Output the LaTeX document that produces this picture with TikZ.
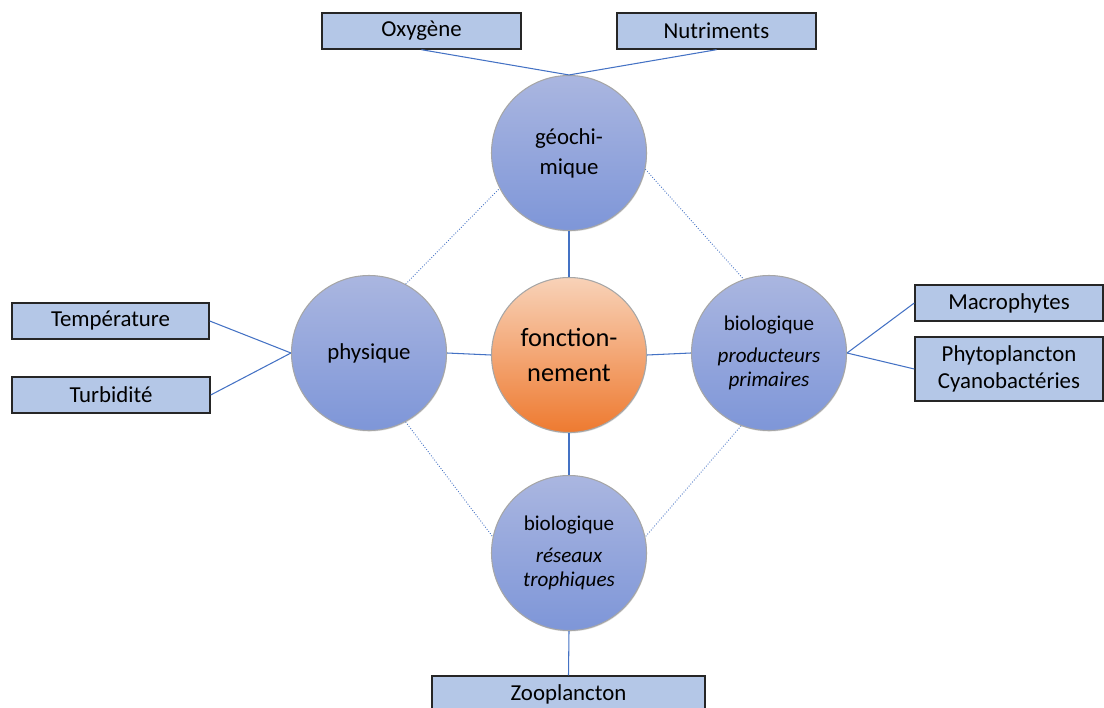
\documentclass[tikz,border=0pt]{standalone}
\usepackage{fontspec}
\setmainfont{Carlito}
\usetikzlibrary{shadows}
\definecolor{circtop}{HTML}{AAB6E0}
\definecolor{circbot}{HTML}{7E96D8}
\definecolor{orgtop}{HTML}{F8D2B8}
\definecolor{orgbot}{HTML}{EE7A30}
\definecolor{boxfill}{HTML}{B4C7E7}
\definecolor{linkblue}{HTML}{4472C4}

\begin{document}
\begin{tikzpicture}[
    circ/.style={circle, minimum size=3.1cm, inner sep=0pt, align=center,
      top color=circtop, bottom color=circbot, draw=gray!70, line width=0.6pt,
      drop shadow={shadow xshift=0.3pt, shadow yshift=-0.6pt, opacity=0.25}},
    core/.style={circ, top color=orgtop, bottom color=orgbot},
    item/.style={draw=black!85, line width=0.8pt, fill=boxfill, minimum height=0.72cm,
      inner sep=0pt, align=center, font=\fontsize{13}{15}\selectfont},
    link/.style={linkblue, line width=0.6pt},
    weak/.style={linkblue, line width=0.5pt, densely dotted}
  ]
  \useasboundingbox (0,0) rectangle (22.08,14.14);
  % the five circles
  \node[circ, font=\fontsize{13}{17}\selectfont] (geo) at (11.38,11.08) {géochi-\\mique};
  \node[core, font=\fontsize{15}{20}\selectfont] (fonc) at (11.38,7.04) {fonction-\\nement};
  \node[circ, font=\fontsize{13}{16}\selectfont] (phys) at (7.38,7.08) {physique};
  \node[circ, font=\fontsize{12}{14}\selectfont] (prod) at (15.38,7.08)
    {biologique\\[4pt] \itshape producteurs\\ \itshape primaires};
  \node[circ, font=\fontsize{12}{14}\selectfont] (troph) at (11.38,3.08)
    {biologique\\[4pt] \itshape réseaux\\ \itshape trophiques};
  % the boxes
  \node[item, minimum width=3.98cm] (oxy) at (8.43,13.52) {Oxygène};
  \node[item, minimum width=3.98cm] (nutri) at (14.33,13.52) {Nutriments};
  \node[item, minimum width=3.94cm] (temp) at (2.21,7.72) {Température};
  \node[item, minimum width=3.96cm] (turb) at (2.22,6.24) {Turbidité};
  \node[item, minimum width=3.76cm] (macro) at (20.18,8.08) {Macrophytes};
  \node[item, minimum width=3.76cm, minimum height=1.28cm] (phyto) at (20.18,6.76)
    {Phytoplancton\\Cyanobactéries};
  \node[item, minimum width=5.46cm] (zoo) at (11.37,0.26) {Zooplancton};
  % solid links
  \draw[link] (oxy.south) -- (geo.north);
  \draw[link] (nutri.south) -- (geo.north);
  \draw[link] (temp.east) -- (phys.west);
  \draw[link] (turb.east) -- (phys.west);
  \draw[link] (macro.west) -- (prod.east);
  \draw[link] (phyto.west) -- (prod.east);
  \draw[link] (troph.south) -- (zoo.north);
  \draw[link] (geo.south) -- (fonc.north);
  \draw[link] (phys.east) -- (fonc.west);
  \draw[link] (fonc.east) -- (prod.west);
  \draw[link] (fonc.south) -- (troph.north);
  % dotted links between outer circles
  \draw[weak] (phys.62) -- (geo.207);
  \draw[weak] (geo.-12) -- (prod.109);
  \draw[weak] (phys.-62) -- (troph.168);
  \draw[weak] (prod.-111) -- (troph.12);
\end{tikzpicture}
\end{document}
